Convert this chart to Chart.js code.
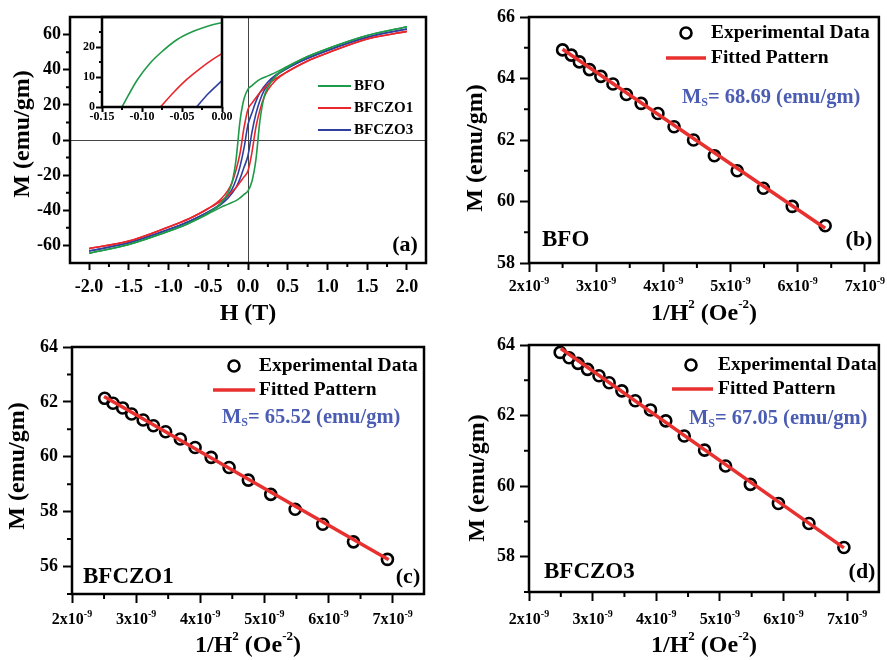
<!DOCTYPE html>
<html>
<head>
<meta charset="utf-8">
<script src="https://cdn.jsdelivr.net/npm/chart.js@4.4.1/dist/chart.umd.min.js"></script>
<style>
  body { margin: 0; background: #fff; }
  #page { position: relative; width: 887px; height: 660px; overflow: hidden; background: #fff; }
  canvas { position: absolute; }
</style>
</head>
<body>
<div id="page">
  <canvas id="chartA" width="443" height="330" style="left:0;top:0"></canvas>
  <canvas id="chartInset" width="190" height="122" style="left:50px;top:8px"></canvas>
  <canvas id="chartB" width="444" height="330" style="left:443px;top:0"></canvas>
  <canvas id="chartC" width="443" height="340" style="left:0;top:320px"></canvas>
  <canvas id="chartD" width="444" height="340" style="left:443px;top:320px"></canvas>
</div>
<script>
// (a) M-H loops: descending branch (field going +2 -> -2) and ascending branch (-2 -> +2)
const fieldDown = [2.0, 1.5, 1.0, 0.75, 0.5, 0.35, 0.25, 0.15, 0.1, 0.05, 0, -0.05, -0.1, -0.15, -0.2, -0.25, -0.35, -0.5, -0.75, -1.0, -1.5, -2.0];
const fieldUp = [-2.0, -1.5, -1.0, -0.75, -0.5, -0.35, -0.25, -0.15, -0.1, -0.05, 0, 0.05, 0.1, 0.15, 0.2, 0.25, 0.35, 0.5, 0.75, 1.0, 1.5, 2.0];

const bfoDown = [64.4, 59.5, 52, 47.5, 42, 38.5, 36.5, 34.5, 33, 31, 29, 23.5, 11, -11, -24, -30, -36.5, -41.5, -47.5, -52, -59.5, -64.4];
const bfoUp = [-64.4, -59.5, -52, -47.5, -42, -38.5, -36.5, -34.5, -33, -31, -29, -23.5, -11, 11, 24, 30, 36.5, 41.5, 47.5, 52, 59.5, 64.4];
const bfczo1Down = [61.8, 57.5, 49.5, 45, 39, 35, 31.5, 27, 24, 21, 17.5, 7, -7.5, -17, -24, -28.5, -34, -39, -45, -49.5, -57.5, -61.8];
const bfczo1Up = [-61.8, -57.5, -49.5, -45, -39, -35, -31.5, -27, -24, -21, -17.5, -7, 7.5, 17, 24, 28.5, 34, 39, 45, 49.5, 57.5, 61.8];
const bfczo3Down = [63.2, 58.5, 51, 46.5, 41, 37, 33, 27, 22, 15.5, 8.8, -4.5, -15, -22.5, -28, -31.5, -36.5, -41, -46.5, -51, -58.5, -63.2];
const bfczo3Up = [-63.2, -58.5, -51, -46.5, -41, -37, -33, -27, -22, -15.5, -8.8, 4.5, 15, 22.5, 28, 31.5, 36.5, 41, 46.5, 51, 58.5, 63.2];

// inset: descending branches near the coercive field
const insetFieldBFO = [-0.125, -0.106, -0.09, -0.077, -0.056, -0.035, -0.015, 0];
const insetBFO = [0, 9, 14.6, 18, 22.5, 25.3, 27.2, 28.1];
const insetFieldBFCZO1 = [-0.077, -0.06, -0.044, -0.027, -0.0125, 0];
const insetBFCZO1 = [0, 5, 9.2, 12.9, 15.7, 17.8];
const insetFieldBFCZO3 = [-0.032, -0.017, 0];
const insetBFCZO3 = [0, 4.5, 8.8];

const fieldTicks = [-2, -1.5, -1, -0.5, 0, 0.5, 1, 1.5, 2];
const fieldTickLabels = ['-2.0', '-1.5', '-1.0', '-0.5', '0.0', '0.5', '1.0', '1.5', '2.0'];
const fieldMinor = [-1.75, -1.25, -0.75, -0.25, 0.25, 0.75, 1.25, 1.75];
const momentTicks = [-60, -40, -20, 0, 20, 40, 60];
const momentMinor = [-50, -30, -10, 10, 30, 50];
const insetFieldTicks = [-0.15, -0.1, -0.05, 0];
const insetFieldLabels = ['-0.15', '-0.10', '-0.05', '0.00'];
const insetFieldMinor = [-0.125, -0.075, -0.025];
const insetMomentTicks = [0, 10, 20];
const insetMomentMinor = [5, 15, 25];

// (b)-(d) M vs 1/H^2 and linear fits
const invH2B = [2.50e-9, 2.63e-9, 2.75e-9, 2.90e-9, 3.07e-9, 3.25e-9, 3.45e-9, 3.67e-9, 3.92e-9, 4.16e-9, 4.45e-9, 4.76e-9, 5.10e-9, 5.49e-9, 5.92e-9, 6.41e-9];
const momentB = [64.93, 64.76, 64.54, 64.29, 64.07, 63.82, 63.48, 63.19, 62.86, 62.43, 62.00, 61.49, 61.00, 60.43, 59.84, 59.21];
const fitXB = [2.50e-9, 6.41e-9];
const fitYB = [64.95, 59.13];

const invH2C = [2.51e-9, 2.64e-9, 2.79e-9, 2.93e-9, 3.11e-9, 3.27e-9, 3.46e-9, 3.69e-9, 3.92e-9, 4.17e-9, 4.45e-9, 4.75e-9, 5.10e-9, 5.48e-9, 5.91e-9, 6.39e-9, 6.92e-9];
const momentC = [62.13, 61.95, 61.78, 61.56, 61.34, 61.13, 60.91, 60.65, 60.34, 59.98, 59.61, 59.15, 58.63, 58.09, 57.54, 56.90, 56.26];
const fitXC = [2.50e-9, 6.94e-9];
const fitYC = [62.20, 56.25];

const invH2D = [2.49e-9, 2.63e-9, 2.77e-9, 2.92e-9, 3.10e-9, 3.26e-9, 3.46e-9, 3.67e-9, 3.91e-9, 4.15e-9, 4.44e-9, 4.76e-9, 5.09e-9, 5.48e-9, 5.92e-9, 6.40e-9, 6.95e-9];
const momentD = [63.79, 63.64, 63.48, 63.31, 63.13, 62.93, 62.70, 62.42, 62.16, 61.85, 61.42, 61.02, 60.57, 60.05, 59.51, 58.94, 58.26];
const fitXD = [2.50e-9, 6.95e-9];
const fitYD = [63.90, 58.25];

const invTicks = [2e-9, 3e-9, 4e-9, 5e-9, 6e-9, 7e-9];
const invTickLabels = ['2x10', '3x10', '4x10', '5x10', '6x10', '7x10'];
const invTickExp = '-9';
const invMinor = [2.5e-9, 3.5e-9, 4.5e-9, 5.5e-9, 6.5e-9];

const GREEN = '#1f9a48', RED = '#e8262c', BLUE = '#2f3f9f', MS_BLUE = '#4b5cb3', FIT_RED = '#e8302f';
const SERIF = "'Liberation Serif', 'Times New Roman', serif";

Chart.defaults.font.family = SERIF;
Chart.defaults.font.weight = 'bold';
Chart.defaults.color = '#000';
Chart.defaults.animation = false;

const pts = (xs, ys) => xs.map((x, i) => ({ x: x, y: ys[i] }));

// draws a run of text pieces: [text, size, dy]
function rich(ctx, x, y, parts, align) {
  let w = 0;
  parts.forEach(p => { ctx.font = 'bold ' + p[1] + 'px ' + SERIF; w += ctx.measureText(p[0]).width; });
  let cx = align === 'center' ? x - w / 2 : x;
  ctx.textAlign = 'left';
  ctx.textBaseline = 'middle';
  parts.forEach(p => {
    ctx.font = 'bold ' + p[1] + 'px ' + SERIF;
    ctx.fillText(p[0], cx, y + (p[2] || 0));
    cx += ctx.measureText(p[0]).width;
  });
}

// frame, minor ticks, x tick labels and annotations
const boxPlugin = {
  id: 'box',
  afterDraw(chart, args, o) {
    const ctx = chart.ctx, a = chart.chartArea;
    const sx = chart.scales.x, sy = chart.scales.y;
    ctx.save();
    ctx.strokeStyle = '#000';
    ctx.lineWidth = o.tickWidth;
    ctx.beginPath();
    o.xMinor.forEach(v => { const p = sx.getPixelForValue(v); ctx.moveTo(p, a.bottom); ctx.lineTo(p, a.bottom + o.minorLength); });
    o.yMinor.forEach(v => { const p = sy.getPixelForValue(v); ctx.moveTo(a.left, p); ctx.lineTo(a.left - o.minorLength, p); });
    ctx.stroke();
    ctx.lineWidth = o.frameWidth;
    ctx.strokeRect(a.left, a.top, a.right - a.left, a.bottom - a.top);

    ctx.fillStyle = '#000';
    o.xValues.forEach((v, i) => {
      rich(ctx, sx.getPixelForValue(v), a.bottom + o.xLabelOffset, o.xLabels[i], 'center');
    });

    ctx.translate(-o.left, -o.top);
    (o.symbols || []).forEach(s => {
      ctx.beginPath();
      if (s.type === 'line') {
        ctx.strokeStyle = s.color; ctx.lineWidth = s.width;
        ctx.moveTo(s.x1, s.y); ctx.lineTo(s.x2, s.y);
      } else {
        ctx.strokeStyle = '#000'; ctx.lineWidth = 2.6;
        ctx.arc(s.x, s.y, 5.5, 0, Math.PI * 2);
      }
      ctx.stroke();
    });
    (o.texts || []).forEach(t => {
      ctx.fillStyle = t.color || '#000';
      if (t.rotate) {
        ctx.save();
        ctx.translate(t.x, t.y);
        ctx.rotate(-Math.PI / 2);
        rich(ctx, 0, 0, t.parts, 'center');
        ctx.restore();
      } else {
        rich(ctx, t.x, t.y, t.parts, t.align || 'left');
      }
    });
    ctx.restore();
  }
};

function axis(min, max, ticks, o) {
  return {
    type: 'linear', min: min, max: max,
    afterBuildTicks: s => { s.ticks = ticks.map(v => ({ value: v })); },
    afterFit: s => { if (o.w != null) s.width = o.w; if (o.h != null) s.height = o.h; },
    grid: {
      drawOnChartArea: !!o.zero,
      color: c => (o.zero && c.tick && c.tick.value === 0) ? '#444' : 'rgba(0,0,0,0)',
      lineWidth: 1,
      tickColor: '#000',
      tickLength: o.tl,
      tickWidth: 2
    },
    border: { display: false },
    ticks: {
      display: !!o.labels,
      font: { size: o.fs, weight: 'bold' },
      color: '#000',
      padding: o.pad,
      autoSkip: false,
      maxRotation: 0
    }
  };
}

function loop(xs, ys, color) {
  return { data: pts(xs, ys), showLine: true, borderColor: color, borderWidth: 1.6, pointRadius: 0, cubicInterpolationMode: 'monotone', fill: false };
}

function baseOptions(padding, scales, box) {
  return {
    responsive: false,
    devicePixelRatio: 1,
    animation: false,
    layout: { padding: padding },
    plugins: { legend: { display: false }, tooltip: { enabled: false }, box: box },
    scales: scales
  };
}

// ----- (a) -----
new Chart(document.getElementById('chartA'), {
  type: 'scatter',
  data: {
    datasets: [
      loop(fieldDown, bfoDown, GREEN), loop(fieldUp, bfoUp, GREEN),
      loop(fieldDown, bfczo1Down, RED), loop(fieldUp, bfczo1Up, RED),
      loop(fieldDown, bfczo3Down, BLUE), loop(fieldUp, bfczo3Up, BLUE)
    ]
  },
  options: baseOptions({ top: 17, right: 17, left: 0, bottom: 0 }, {
    x: axis(-2.24, 2.24, fieldTicks, { h: 67, tl: 7, zero: true }),
    y: axis(-70, 70, momentTicks, { w: 70, tl: 7, pad: 2, fs: 18, labels: true, zero: true })
  }, {
    left: 0, top: 0, tickWidth: 2, minorLength: 4, frameWidth: 2.5,
    xMinor: fieldMinor, yMinor: momentMinor,
    xValues: fieldTicks, xLabels: fieldTickLabels.map(l => [[l, 18]]), xLabelOffset: 24,
    symbols: [
      { type: 'line', x1: 318, x2: 351, y: 86, color: GREEN, width: 2 },
      { type: 'line', x1: 318, x2: 351, y: 108, color: RED, width: 2 },
      { type: 'line', x1: 318, x2: 351, y: 130, color: BLUE, width: 2 }
    ],
    texts: [
      { parts: [['M (emu/gm)', 24]], x: 23, y: 134, rotate: true },
      { parts: [['H (T)', 24]], x: 248, y: 314, align: 'center' },
      { parts: [['BFO', 15]], x: 354, y: 86 },
      { parts: [['BFCZO1', 15]], x: 354, y: 108 },
      { parts: [['BFCZO3', 15]], x: 354, y: 130 },
      { parts: [['(a)', 22]], x: 405, y: 245, align: 'center' }
    ]
  }),
  plugins: [boxPlugin]
});

// ----- inset of (a) -----
new Chart(document.getElementById('chartInset'), {
  type: 'scatter',
  data: {
    datasets: [
      loop(insetFieldBFO, insetBFO, GREEN),
      loop(insetFieldBFCZO1, insetBFCZO1, RED),
      loop(insetFieldBFCZO3, insetBFCZO3, BLUE)
    ]
  },
  options: baseOptions({ top: 9, right: 18, left: 0, bottom: 0 }, {
    x: axis(-0.15, 0, insetFieldTicks, { h: 23, tl: 5 }),
    y: axis(0, 30, insetMomentTicks, { w: 52, tl: 6, pad: 1, fs: 12, labels: true })
  }, {
    left: 50, top: 8, tickWidth: 2, minorLength: 3, frameWidth: 2.5,
    xMinor: insetFieldMinor, yMinor: insetMomentMinor,
    xValues: insetFieldTicks, xLabels: insetFieldLabels.map(l => [[l, 12]]), xLabelOffset: 10
  }),
  plugins: [boxPlugin]
});

// ----- (b)-(d) -----
function fitPanel(id, o) {
  new Chart(document.getElementById(id), {
    type: 'scatter',
    data: {
      datasets: [
        { data: pts(o.fitX, o.fitY), showLine: true, borderColor: FIT_RED, borderWidth: 3.5, pointRadius: 0, fill: false },
        { data: pts(o.xs, o.ys), showLine: false, pointRadius: 5.5, pointBorderWidth: 2.6, pointBorderColor: '#000', pointBackgroundColor: 'rgba(0,0,0,0)', clip: 8 }
      ]
    },
    options: baseOptions(o.padding, {
      x: axis(2e-9, o.xMax, invTicks, { h: o.xh, tl: 9 }),
      y: axis(o.yMin, o.yMax, o.yTicks, { w: 86 + o.yw, tl: 9, pad: 5, fs: 18, labels: true })
    }, {
      left: o.left, top: o.top, tickWidth: 2, minorLength: 5, frameWidth: 2.5,
      xMinor: invMinor, yMinor: o.yMinor,
      xValues: invTicks, xLabels: invTickLabels.map(l => [[l, 16], [invTickExp, 10, -6]]), xLabelOffset: o.xOff,
      symbols: o.symbols, texts: o.texts
    }),
    plugins: [boxPlugin]
  });
}

function fitLegend(cx, cy, ly, lx1, lx2, tx, msX, msY, ms) {
  return {
    symbols: [
      { type: 'circle', x: cx, y: cy },
      { type: 'line', x1: lx1, x2: lx2, y: ly, color: FIT_RED, width: 3.5 }
    ],
    texts: [
      { parts: [['Experimental Data', 19.5]], x: tx, y: cy },
      { parts: [['Fitted Pattern', 19.5]], x: tx, y: ly },
      { parts: [['M', 20.5], ['S', 12, 5], ['= ' + ms + ' (emu/gm)', 20.5]], x: msX, y: msY, color: MS_BLUE }
    ]
  };
}

const legB = fitLegend(686, 33, 58, 666, 706, 711, 682, 98, '68.69');
fitPanel('chartB', {
  xs: invH2B, ys: momentB, fitX: fitXB, fitY: fitYB,
  xMax: 7.21e-9, yMin: 58, yMax: 66, yTicks: [58, 60, 62, 64, 66], yMinor: [59, 61, 63, 65],
  padding: { top: 17, right: 7, left: 0, bottom: 0 }, xh: 67, yw: 0, xOff: 24,
  left: 443, top: 0, symbols: legB.symbols,
  texts: legB.texts.concat([
    { parts: [['M (emu/gm)', 24]], x: 476, y: 148, rotate: true },
    { parts: [['1/H', 24], ['2', 13, -9], [' (Oe', 24], ['-2', 13, -9], [')', 24]], x: 704, y: 314, align: 'center' },
    { parts: [['BFO', 23]], x: 542, y: 240 },
    { parts: [['(b)', 22]], x: 859, y: 240, align: 'center' }
  ])
});

const legC = fitLegend(234, 366, 390, 213, 255, 259, 222, 418, '65.52');
fitPanel('chartC', {
  xs: invH2C, ys: momentC, fitX: fitXC, fitY: fitYC,
  xMax: 7.49e-9, yMin: 55, yMax: 64, yTicks: [56, 58, 60, 62, 64], yMinor: [55, 57, 59, 61, 63],
  padding: { top: 27, right: 19, left: 0, bottom: 0 }, xh: 66, yw: -14, xOff: 26,
  left: 0, top: 320, symbols: legC.symbols,
  texts: legC.texts.concat([
    { parts: [['M (emu/gm)', 24]], x: 18, y: 466, rotate: true },
    { parts: [['1/H', 24], ['2', 13, -9], [' (Oe', 24], ['-2', 13, -9], [')', 24]], x: 248, y: 646, align: 'center' },
    { parts: [['BFCZO1', 23]], x: 83, y: 577 },
    { parts: [['(c)', 22]], x: 408, y: 577, align: 'center' }
  ])
});

const legD = fitLegend(691, 365, 389, 672, 713, 718, 689, 419, '67.05');
fitPanel('chartD', {
  xs: invH2D, ys: momentD, fitX: fitXD, fitY: fitYD,
  xMax: 7.5e-9, yMin: 57, yMax: 64, yTicks: [58, 60, 62, 64], yMinor: [57, 59, 61, 63],
  padding: { top: 25, right: 7, left: 0, bottom: 0 }, xh: 68, yw: 0, xOff: 28,
  left: 443, top: 320, symbols: legD.symbols,
  texts: legD.texts.concat([
    { parts: [['M (emu/gm)', 24]], x: 478, y: 478, rotate: true },
    { parts: [['1/H', 24], ['2', 13, -9], [' (Oe', 24], ['-2', 13, -9], [')', 24]], x: 704, y: 646, align: 'center' },
    { parts: [['BFCZO3', 23]], x: 544, y: 572 },
    { parts: [['(d)', 22]], x: 862, y: 572, align: 'center' }
  ])
});
</script>
</body>
</html>
